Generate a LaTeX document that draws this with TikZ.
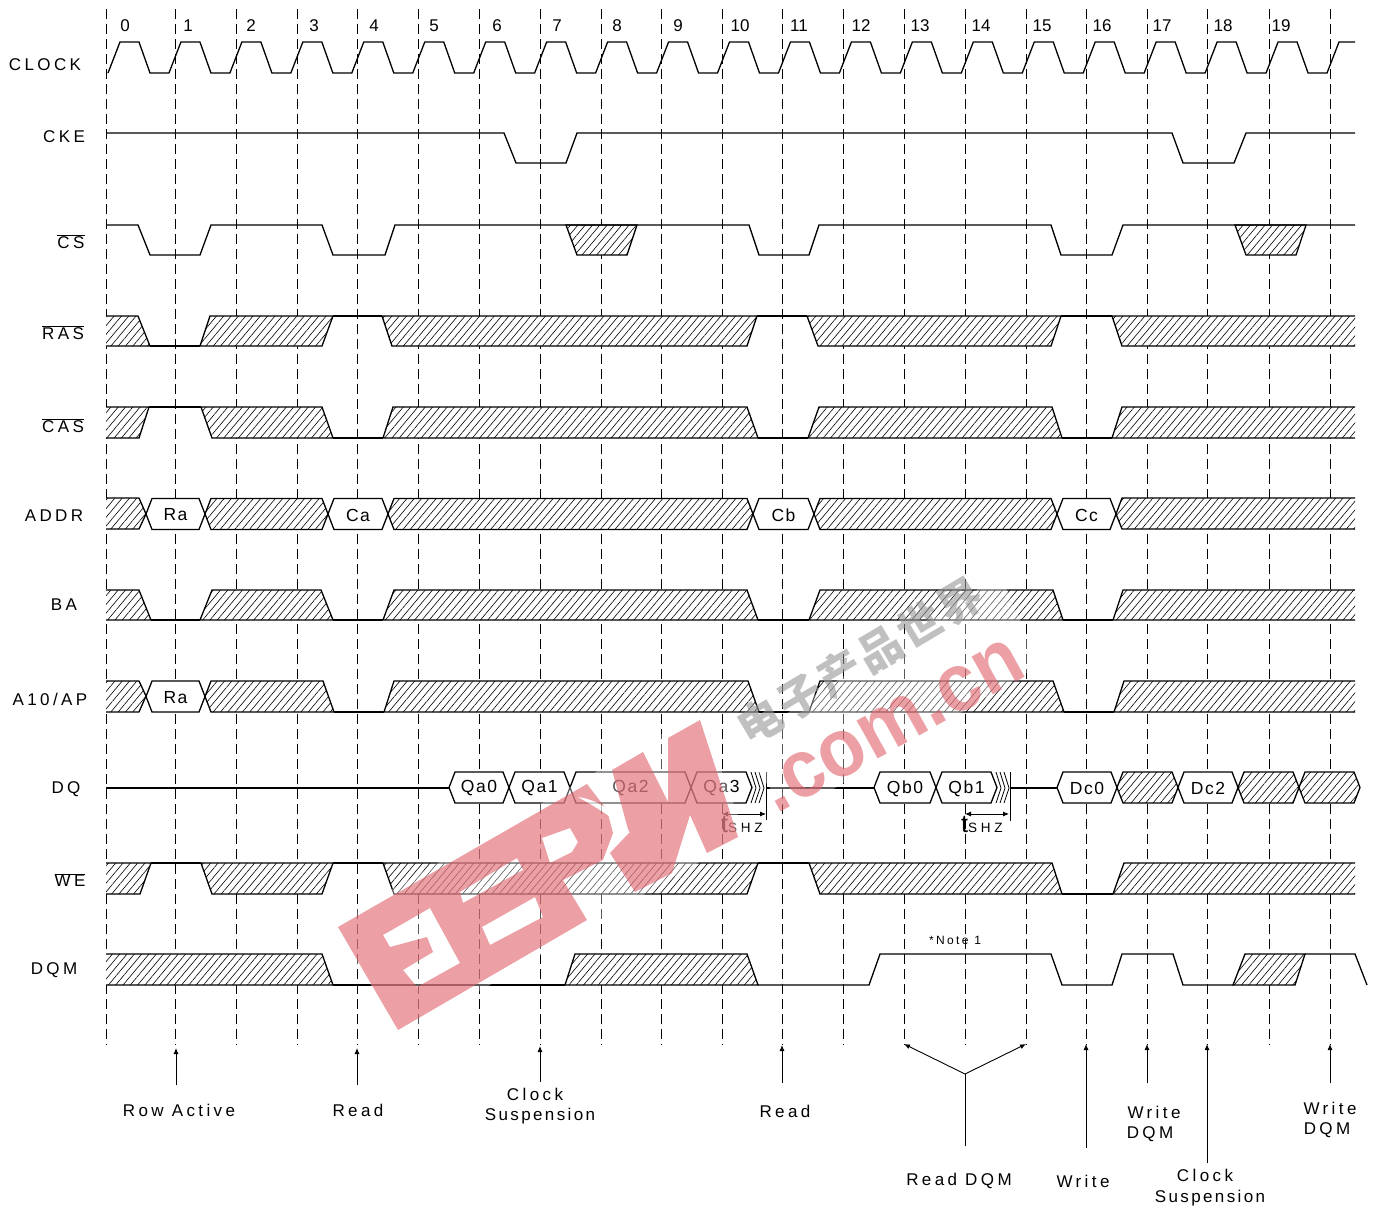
\documentclass[tikz,border=0pt]{standalone}
\usepackage{fontspec}
\setmainfont[LetterSpace=20]{Liberation Sans}
\newfontfamily\digitfont{Liberation Sans}
\newfontfamily\cellfont[LetterSpace=9]{Liberation Sans}
\newfontfamily\markfont{Liberation Sans}
\newfontfamily\cnfont[LetterSpace=6]{Noto Sans CJK SC}
\usetikzlibrary{arrows.meta,patterns.meta}
\definecolor{markred}{RGB}{223,97,105}
\definecolor{markgray}{RGB}{150,150,150}
\tikzset{
  wave/.style={line width=1.3pt,line join=miter},
  hatchfill/.style={pattern={Lines[angle=50,distance=5.6pt,line width=.6pt]}},
  gridline/.style={line width=.9pt,dash pattern=on 10pt off 5pt},
  signame/.style={font=\fontsize{17}{17}\selectfont,inner sep=0pt,yshift=-1pt},
  notename/.style={font=\fontsize{17}{17}\selectfont,inner sep=0pt},
  susname/.style={font=\fontsize{17}{17}\selectfont\addfontfeature{LetterSpace=14},inner sep=0pt},
  cellname/.style={font=\cellfont\fontsize{17.5}{17.5}\selectfont,inner sep=0pt,yshift=-1pt},
  pointer/.style={line width=.9pt,-{Latex[length=6pt,width=5pt]}},
  span/.style={line width=.8pt,{Latex[length=6pt,width=5pt]}-{Latex[length=6pt,width=5pt]}},
}
% Hatched run: the fill closes the outline, the stroke keeps it as written
\newcommand{\hatchrun}[1]{\fill[white] #1; \path[hatchfill] #1; \draw[wave] #1;}
% Hexagon cells: left tip, right tip, middle height
\newcommand{\hatchcell}[3]{\hatchrun{(#1,#3) -- (#1+6,#3-15.5) -- (#2-6,#3-15.5) -- (#2,#3) -- (#2-6,#3+15.5) -- (#1+6,#3+15.5) -- cycle}}
\newcommand{\datacell}[5]{%
  \draw[wave,fill=white] (#1,#3) -- (#1+6,#3-15.5) -- (#2-6,#3-15.5) -- (#2,#3) -- (#2-6,#3+15.5) -- (#1+6,#3+15.5) -- cycle;
  \node[cellname] (#4) at ({(#1+#2)/2},#3) {#5};}
\begin{document}
\begin{tikzpicture}[x=1pt,y=-1pt,>=Latex]
  \useasboundingbox (0,0) rectangle (1380,1210);
  % Configurable parameters
  \def\clkperiod{60.95}
  %
  % Cycle grid
  \foreach \x in {106,175,236,297,357,418,479,540,601,661,722,782,843,904,965,1026,1086,1147,1207,1269,1330}
    \draw[gridline] (\x,9) -- (\x,1045);
  %
  % Cycle numbers
  \foreach \n/\x in {0/125,1/188,2/251,3/314,4/374,5/434,6/497,7/557,8/617,9/678,10/740,11/799,12/861,13/920,14/981,15/1042,16/1102,17/1162,18/1223,19/1281}
    \node[font=\digitfont\fontsize{17}{17}\selectfont,inner sep=0pt] (cycle\n) at (\x,25.5) {\n};
  %
  % Signal names
  \node[signame] (clock) at (45,64) {CLOCK};
  \node[signame] (cke) at (64,136) {CKE};
  \node[signame] (cs) at (71,241) {$\overline{\mbox{CS}}$};
  \node[signame] (ras) at (63,332) {$\overline{\mbox{RAS}}$};
  \node[signame] (cas) at (63,425) {$\overline{\mbox{CAS}}$};
  \node[signame] (addr) at (54,515) {ADDR};
  \node[signame] (ba) at (64,604) {BA};
  \node[signame] (a10) at (50,698) {A10/AP};
  \node[signame] (dq) at (66,788) {DQ};
  \node[signame] (we) at (70,879) {$\overline{\mbox{WE}}$};
  \node[signame] (dqm) at (54,969) {DQM};
  %
  % CLOCK and CKE
  \draw[wave] (108,73) \foreach \k in {0,...,19} {
      -- ({108+\k*\clkperiod+12},42) -- ({108+\k*\clkperiod+31},42)
      -- ({108+\k*\clkperiod+42},73) -- ({108+\k*\clkperiod+\clkperiod},73)}
    -- (1339,42) -- (1355,42);
  \draw[wave] (106,133) -- (504,133) -- (516,163) -- (566,163) -- (577,133) -- (1172,133)
    -- (1183,163) -- (1234,163) -- (1246,133) -- (1355,133);
  %
  % CS
  \hatchrun{(566,225) -- (637,225) -- (627,255) -- (577,255) -- cycle}
  \hatchrun{(1235,225) -- (1306,225) -- (1296,255) -- (1246,255) -- cycle}
  \draw[wave] (106,225) -- (138,225) -- (150,255) -- (200,255) -- (211,225) -- (322,225)
    -- (333,255) -- (385,255) -- (395,225) -- (749,225) -- (759,255) -- (809,255)
    -- (819,225) -- (1051,225) -- (1061,255) -- (1112,255) -- (1123,225) -- (1355,225);
  %
  % RAS
  \hatchrun{(106,316) -- (138,316) -- (150,346) -- (106,346)}
  \hatchrun{(210,316) -- (333,316) -- (322,346) -- (200,346) -- cycle}
  \hatchrun{(382,316) -- (757,316) -- (747,346) -- (392,346) -- cycle}
  \hatchrun{(807,316) -- (1061,316) -- (1051,346) -- (818,346) -- cycle}
  \hatchrun{(1355,316) -- (1112,316) -- (1122,346) -- (1355,346)}
  \draw[wave] (150,346) -- (200,346);
  \draw[wave] (333,316) -- (382,316);
  \draw[wave] (757,316) -- (807,316);
  \draw[wave] (1061,316) -- (1112,316);
  %
  % CAS
  \hatchrun{(106,407) -- (149,407) -- (139,438) -- (106,438)}
  \hatchrun{(201,407) -- (322,407) -- (333,438) -- (212,438) -- cycle}
  \hatchrun{(393,407) -- (747,407) -- (758,438) -- (383,438) -- cycle}
  \hatchrun{(819,407) -- (1052,407) -- (1062,438) -- (808,438) -- cycle}
  \hatchrun{(1355,407) -- (1122,407) -- (1112,438) -- (1355,438)}
  \draw[wave] (149,407) -- (201,407);
  \draw[wave] (333,438) -- (383,438);
  \draw[wave] (758,438) -- (808,438);
  \draw[wave] (1062,438) -- (1112,438);
  %
  % ADDR
  \hatchrun{(106,498) -- (139,498) -- (146,514) -- (139,529) -- (106,529)}
  \datacell{146}{205}{514}{ra}{Ra}
  \hatchcell{205}{328}{514}
  \datacell{328}{388}{514}{ca}{Ca}
  \hatchcell{388}{753}{514}
  \datacell{753}{814}{514}{cb}{Cb}
  \hatchcell{814}{1057}{514}
  \datacell{1057}{1116}{514}{cc}{Cc}
  \hatchrun{(1355,498) -- (1122,498) -- (1116,514) -- (1122,529) -- (1355,529)}
  %
  % BA
  \hatchrun{(106,590) -- (139,590) -- (151,620) -- (106,620)}
  \hatchrun{(212,590) -- (321,590) -- (333,620) -- (200,620) -- cycle}
  \hatchrun{(394,590) -- (747,590) -- (758,620) -- (383,620) -- cycle}
  \hatchrun{(820,590) -- (1053,590) -- (1063,620) -- (809,620) -- cycle}
  \hatchrun{(1355,590) -- (1123,590) -- (1113,620) -- (1355,620)}
  \draw[wave] (151,620) -- (200,620);
  \draw[wave] (333,620) -- (383,620);
  \draw[wave] (758,620) -- (809,620);
  \draw[wave] (1063,620) -- (1113,620);
  %
  % A10/AP
  \hatchrun{(106,681) -- (139,681) -- (146,696) -- (139,712) -- (106,712)}
  \datacell{146}{205}{696.5}{raa}{Ra}
  \hatchrun{(205,696.5) -- (211,681) -- (323,681) -- (334,712) -- (211,712) -- cycle}
  \hatchrun{(394,681) -- (748,681) -- (759,712) -- (384,712) -- cycle}
  \hatchrun{(820,681) -- (1053,681) -- (1064,712) -- (809,712) -- cycle}
  \hatchrun{(1355,681) -- (1124,681) -- (1114,712) -- (1355,712)}
  \draw[wave] (334,712) -- (384,712);
  \draw[wave] (759,712) -- (809,712);
  \draw[wave] (1064,712) -- (1114,712);
  %
  % DQ
  \draw[wave] (106,788) -- (449,788);
  \datacell{449}{509}{787.5}{qa0}{Qa0}
  \datacell{509}{570}{787.5}{qa1}{Qa1}
  \datacell{570}{691}{787.5}{qa2}{Qa2}
  \datacell{691}{752}{787.5}{qa3}{Qa3}
  \draw[wave] (766,788) -- (874,788);
  \datacell{874}{936}{787.5}{qb0}{Qb0}
  \datacell{936}{997}{787.5}{qb1}{Qb1}
  \draw[wave] (1010,788) -- (1057,788);
  \datacell{1057}{1117}{787.5}{dc0}{Dc0}
  \hatchcell{1117}{1178}{787.5}
  \datacell{1178}{1238}{787.5}{dc2}{Dc2}
  \hatchcell{1238}{1299}{787.5}
  \hatchcell{1299}{1360}{787.5}
  % Bus release
  \foreach \e in {747,992} \foreach \d in {4,8,12}
    \draw[line width=.8pt] (\e+\d,772) -- (\e+\d+5,788) -- (\e+\d,803);
  \draw[line width=.8pt] (766,772) -- (766,820);
  \draw[line width=.8pt] (1010,772) -- (1010,821);
  \coordinate (qaend) at (722,814);
  \coordinate (qarel) at (766,814);
  \coordinate (qbend) at (965,814);
  \coordinate (qbrel) at (1009,814);
  \draw[span] (qaend) -- (qarel);
  \draw[span] (qbend) -- (qbrel);
  \node[inner sep=0pt,anchor=base west] (tsa) at (721,832)
    {\markfont\fontsize{25}{25}\selectfont t\fontsize{13.5}{13.5}\selectfont\addfontfeature{LetterSpace=28}SHZ};
  \node[inner sep=0pt,anchor=base west] (tsb) at (961,832)
    {\markfont\fontsize{25}{25}\selectfont t\fontsize{13.5}{13.5}\selectfont\addfontfeature{LetterSpace=28}SHZ};
  %
  % WE
  \hatchrun{(106,863) -- (151,863) -- (140,894) -- (106,894)}
  \hatchrun{(201,863) -- (333,863) -- (322,894) -- (212,894) -- cycle}
  \hatchrun{(383,863) -- (758,863) -- (747,894) -- (394,894) -- cycle}
  \hatchrun{(809,863) -- (1052,863) -- (1062,894) -- (820,894) -- cycle}
  \hatchrun{(1355,863) -- (1124,863) -- (1113,894) -- (1355,894)}
  \draw[wave] (151,863) -- (201,863);
  \draw[wave] (333,863) -- (383,863);
  \draw[wave] (758,863) -- (809,863);
  \draw[wave] (1062,894) -- (1113,894);
  %
  % DQM
  \hatchrun{(106,954) -- (322,954) -- (333,985) -- (106,985)}
  \hatchrun{(575,954) -- (747,954) -- (758,985) -- (565,985) -- cycle}
  \hatchrun{(1245,954) -- (1305,954) -- (1295,985) -- (1233,985) -- cycle}
  \draw[wave] (333,985) -- (565,985);
  \draw[wave] (758,985) -- (869,985) -- (880,954) -- (1051,954) -- (1062,985) -- (1112,985)
    -- (1122,954) -- (1173,954) -- (1183,985) -- (1233,985);
  \draw[wave] (1305,954) -- (1355,954) -- (1367,985);
  \node[font=\fontsize{12}{12}\selectfont\addfontfeature{LetterSpace=20},inner sep=0pt] (note) at (955,940) {*Note 1};
  %
  % Command pointers
  \foreach \name/\x/\foot/\tip in {row/176/1085/1048,rd/357/1085/1048,clk/540/1082/1046,
      rdb/782/1083/1045,wr/1086/1148/1044,wdqm/1147/1083/1044,clkb/1207/1163/1044,wdqmb/1330/1083/1044} {
    \coordinate (\name foot) at (\x,\foot);
    \coordinate (\name tip) at (\x,\tip);
    \draw[pointer] (\name foot) -- (\name tip);
  }
  \coordinate (forkfoot) at (965,1146);
  \coordinate (fork) at (965,1074);
  \coordinate (forkleft) at (904,1044);
  \coordinate (forkright) at (1026,1044);
  \draw[line width=.9pt] (forkfoot) -- (fork);
  \draw[pointer] (fork) -- (forkleft);
  \draw[pointer] (fork) -- (forkright);
  %
  % Command names
  \node[notename] (rowname) at (179,1110) {Row Active};
  \node[notename] (rdname) at (358,1110) {Read};
  \node[notename] (clkname) at (535,1094) {Clock};
  \node[susname] (clksus) at (540,1116) {Suspension};
  \node[notename] (rdbname) at (785,1111) {Read};
  \node[notename] (forkname) at (959,1181) {Read DQM};
  \node[notename] (wrname) at (1083,1181) {Write};
  \node[notename] (wdqmname) at (1154,1112) {Write};
  \node[notename] (wdqmsub) at (1150,1134) {DQM};
  \node[notename] (clkbname) at (1205,1175) {Clock};
  \node[susname] (clkbsus) at (1210,1198) {Suspension};
  \node[notename] (wdqmbname) at (1330,1108) {Write};
  \node[notename] (wdqmbsub) at (1327,1130) {DQM};
  %
  % Watermark
  \fill[white,opacity=.35] (330,925) -- (700,712) -- (745,835) -- (405,1035) -- cycle;
  \fill[white,opacity=.35] (738,745) -- (1000,575) -- (1040,665) -- (790,815) -- cycle;
  \begin{scope}[transparency group,opacity=.6]
    \fill[markred,even odd rule]
      (338,927) -- (587,784) -- (607,810) -- (613,833) -- (603,860) -- (563,880) -- (587,920) -- (398,1030) -- cycle
      (383,935) -- (430,908) -- (460,963) -- (417,987) -- (403,970) -- (433,952) -- (427,937) -- (390,947) -- cycle
      (460,892) -- (517,858) -- (523,870) -- (463,903) -- cycle
      (482,927) -- (535,897) -- (543,917) -- (490,945) -- cycle
      (542,838) -- (570,828) -- (578,842) -- (572,852) -- (550,863) -- cycle;
    \fill[markred] (612,770) -- (643,752) -- (668,802) -- (668,738) -- (700,720) -- (738,837)
      -- (707,853) -- (690,815) -- (672,873) -- (635,892) -- (610,853) -- (629,833) -- cycle;
    \fill[white] (578,797) .. controls (600,800) and (620,815) .. (630,833)
      .. controls (618,822) and (605,812) .. (578,797) -- cycle;
  \end{scope}
  \node[rotate=29,text=markred,opacity=.6,inner sep=0pt,anchor=base,font=\markfont\bfseries\fontsize{82}{82}\selectfont]
    (markcom) at (903,745) {\scalebox{.93}[1]{.com.cn}};
  \node[rotate=30.8,text=markgray,opacity=.6,inner sep=0pt,font=\cnfont\bfseries\fontsize{44}{44}\selectfont]
    (markcn) at (860,661) {电子产品世界};
\end{tikzpicture}
\end{document}
